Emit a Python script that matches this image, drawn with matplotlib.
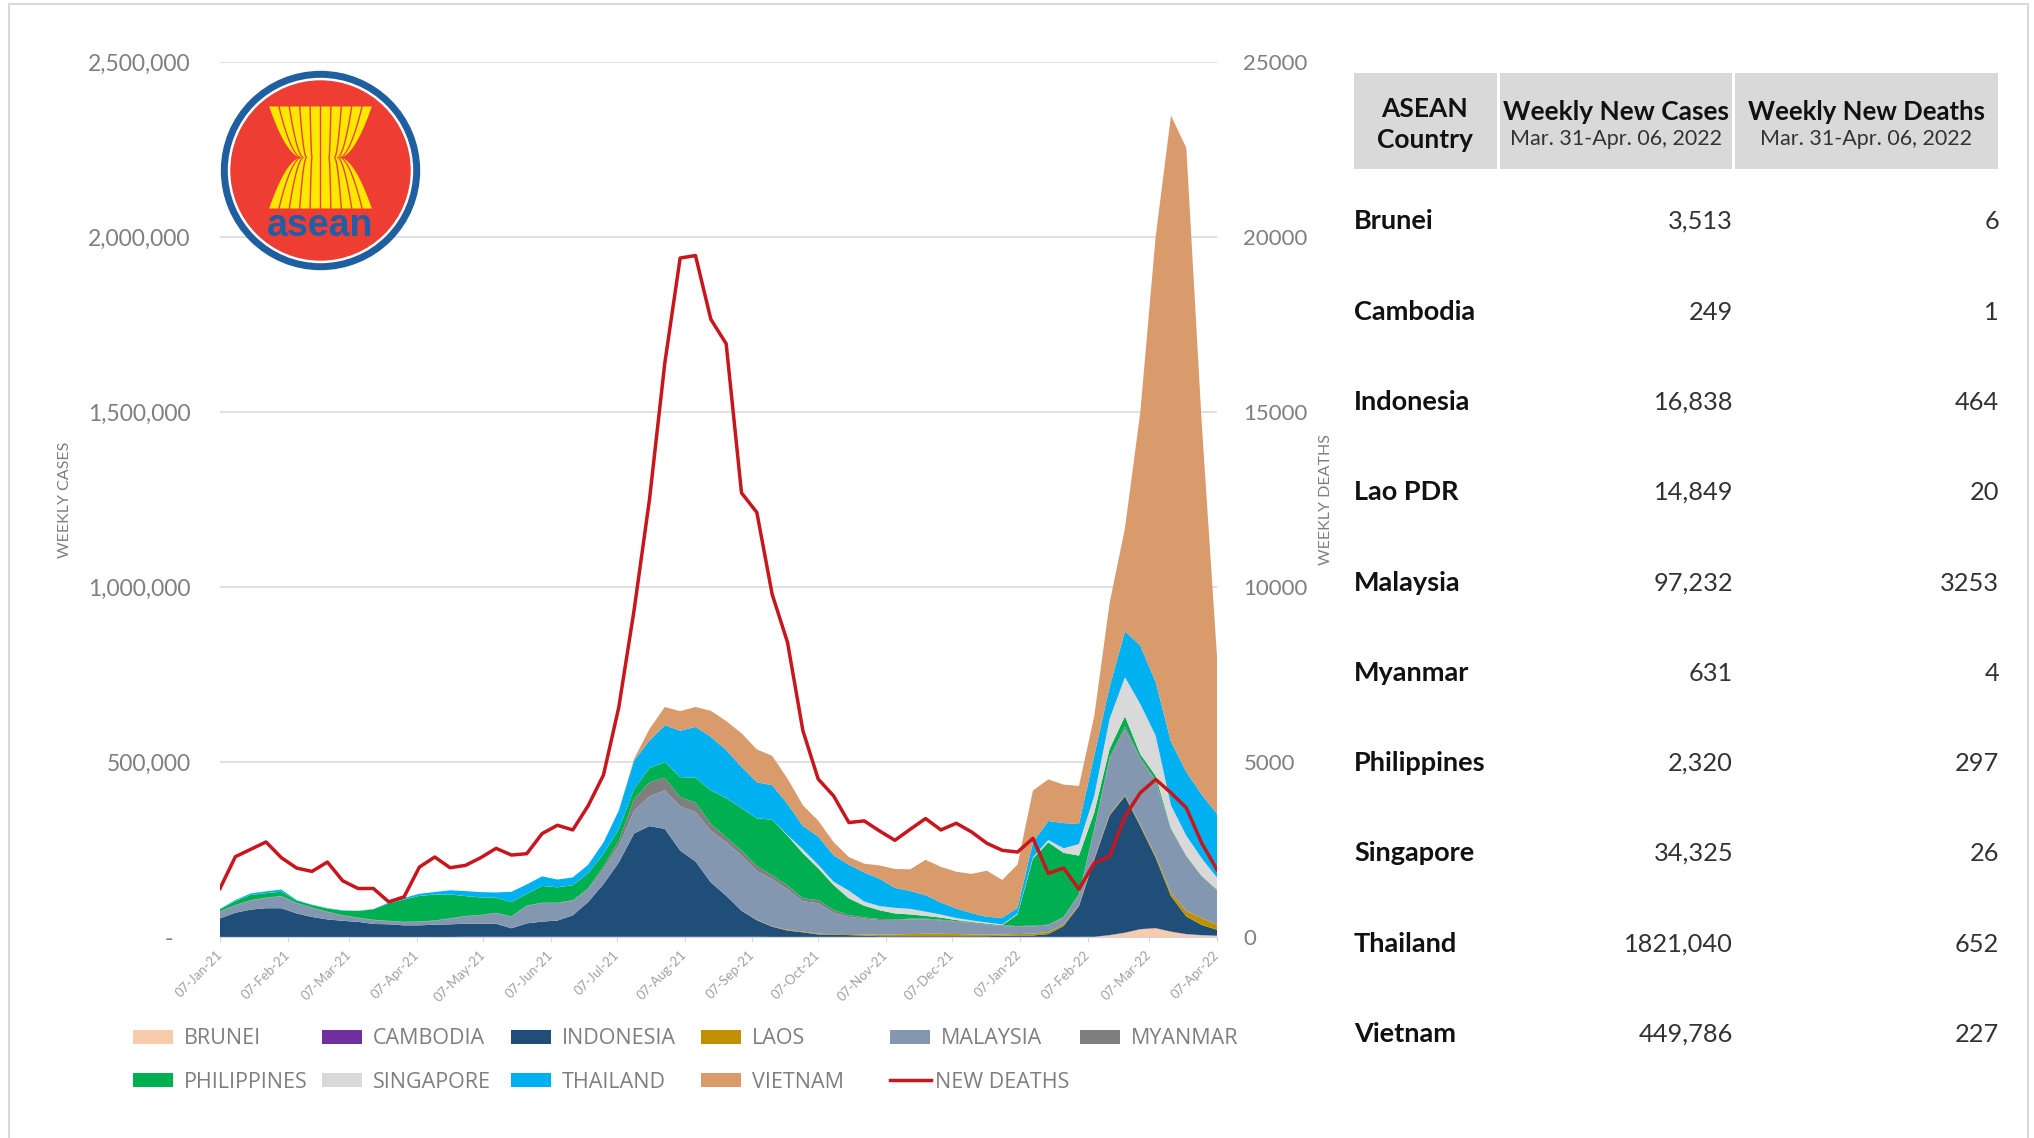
import numpy as np
import pandas as pd
import matplotlib
matplotlib.use('Agg')
import matplotlib.pyplot as plt
import matplotlib.dates as mdates
from matplotlib.patches import Circle, Polygon, Rectangle
from matplotlib.ticker import FuncFormatter

plt.rcParams['font.family'] = ['Lato', 'DejaVu Sans']

W, H = 2034, 1138

# weekly cases, thousands
brunei = [0.1, 0.1, 0.1, 0.1, 0.1, 0.1, 0.1, 0.1, 0.1, 0.1, 0.1, 0.1, 0.1, 0.1, 0.1, 0.1, 0.1, 0.1, 0.1, 0.1,
          0.1, 0.1, 0.1, 0.1, 0.1, 0.1, 0.1, 0.1, 0.1, 0.1, 0.1, 0.1, 0.1, 0.1, 0.1, 0.1, 0.1, 0.1, 0.1, 0.1,
          0.1, 0.1, 0.1, 0.1, 0.1, 0.1, 0.1, 0.1, 0.1, 0.1, 0.1, 0.1, 0.1, 0.1, 0.1, 0.1,
          0.3, 0.5, 5, 12, 22, 25, 15, 8, 5, 3.5]
cambodia = [0.1, 0.1, 0.1, 0.1, 0.1, 0.1, 0.1, 0.1, 0.1, 0.1, 0.1, 0.1, 0.1, 0.1, 0.1, 0.1,
            0.8, 0.8, 0.8, 0.8, 0.8, 0.8, 0.8, 0.8, 0.8, 0.8, 0.8, 0.8, 0.8, 0.8, 0.8, 0.8, 0.8, 0.8, 0.8, 0.8,
            0.3, 0.3, 0.3, 0.3, 0.3, 0.3, 0.3, 0.3, 0.3, 0.3, 0.3, 0.3, 0.3, 0.3, 0.3, 0.3, 0.3, 0.3, 0.3, 0.3, 0.3, 0.3,
            0.5, 0.5, 0.5, 0.5, 0.5, 0.5, 0.5, 0.25]
indonesia = [53, 69, 78, 82, 82, 67, 57, 50, 46, 43,
             37, 36, 33, 33, 35, 36, 37, 37, 37, 24,
             38, 43, 46, 61, 99, 150, 212, 295, 316, 308,
             246, 215, 155, 117, 74, 47, 29, 18, 13, 7,
             6, 5, 4, 2, 2, 2, 2, 2, 2, 2,
             2, 3, 4, 4, 8, 31, 88, 221, 342, 390,
             294, 201, 101, 50, 29, 16.8]
laos = [0.1, 0.1, 0.1, 0.1, 0.1, 0.1, 0.1, 0.1, 0.1, 0.1, 0.1, 0.1, 0.1, 0.1, 0.1, 0.1, 0.1, 0.1,
        0.1, 0.1, 0.1, 0.1, 0.1, 0.1, 0.1, 0.1, 0.1, 0.1, 0.1, 0.1, 0.1, 0.1, 0.1, 0.1, 0.1,
        1, 1, 2, 2, 2, 2, 3, 3, 4, 5,
        6, 7, 7, 6, 5, 4, 4, 4, 5, 6,
        5, 3, 3, 3, 3, 4, 6, 10, 16, 20, 14.8]
malaysia = [19, 21, 26, 29, 34, 29, 26, 21, 15, 11,
            11, 9, 9, 10, 11, 16, 21, 24, 30, 33,
            50, 53, 50, 41, 36, 43, 48, 65, 85, 110,
            127, 141, 148, 153, 158, 140, 135, 116, 87, 87,
            61, 49, 45, 42, 41, 42, 41, 38, 35, 33,
            29, 24, 21, 21, 19, 19, 29, 82, 158, 188,
            187, 213, 181, 156, 119, 97.2]
myanmar = [1, 1, 1, 1, 1, 1, 1, 1, 1, 1, 1, 1, 1, 1, 1, 1, 1, 1, 1, 1, 1, 1, 1,
           2, 3, 8, 14, 33, 40, 36,
           26, 27, 19, 14, 14, 14, 11, 11, 8, 9,
           8, 5, 4, 3, 2, 2, 2, 2, 2, 2,
           2, 2, 2, 2, 2, 2, 2, 3, 5, 8,
           5, 3, 1.5, 1, 1, 0.6]
philippines = [6, 11, 15, 13, 12, 7, 7, 9, 13, 19,
               30, 50, 64, 73, 74, 68, 57, 50, 43, 41,
               33, 48, 44, 43, 43, 35, 33, 29, 41, 45,
               57, 71, 96, 112, 121, 136, 159, 142, 129, 91,
               71, 48, 33, 25, 17, 12, 8, 6, 3, 1,
               1, 0.5, 33, 192, 235, 183, 110, 46, 24, 29,
               10, 12, 2, 1, 0.5, 2.3]
singapore = [0.2, 0.2, 0.2, 0.2, 0.2, 0.2, 0.2, 0.2, 0.2, 0.2, 0.2, 0.2, 0.2, 0.2, 0.2, 0.2, 0.2, 0.2, 0.2,
             0.2, 0.2, 0.2, 0.2, 0.2, 0.2, 0.2, 0.2, 0.2, 0.2, 0.2, 0.2, 0.2, 0.2, 0.2, 0.2, 0.2, 0.2,
             2, 11, 10,
             10, 22, 12, 12, 16, 16, 12, 9, 6, 4,
             3, 2, 2, 3, 7, 13, 33, 48, 86, 112,
             143, 115, 65, 57, 50, 34.3]
thailand = [1, 3, 4, 5, 6, 1, 1, 1, 1, 0.5,
            0.5, 2, 4, 6, 7, 12, 14, 15, 15, 29,
            27, 27, 22, 22, 24, 33, 53, 81, 78, 105,
            132, 145, 153, 137, 118, 103, 98, 89, 67, 81,
            75, 74, 83, 78, 57, 51, 47, 34, 27, 21,
            16, 19, 17, 43, 54, 72, 57, 115, 91, 131,
            167, 153, 182, 182, 182, 182.1]
vietnam = [0, 0, 0, 0, 0, 0, 0, 0, 0, 0, 0, 0, 0, 0, 0, 0, 0, 0, 0, 0, 0, 0, 0, 0, 0, 0,
           1, 5, 33, 52,
           56, 57, 74, 83, 96, 94, 84, 72, 59, 45,
           38, 22, 25, 38, 54, 62, 101, 102, 105, 112,
           132, 108, 124, 148, 119, 110, 109, 113, 240, 295,
           667, 1272, 1789, 1783, 1065, 449.8]
new_deaths = [1386, 2294, 2505, 2715, 2266, 1969, 1874, 2141, 1606, 1386,
              1386, 1004, 1147, 1998, 2285, 1979, 2046, 2266, 2533, 2342,
              2380, 2954, 3193, 3059, 3748, 4627, 6565, 9347, 12500, 16400,
              19400, 19470, 17650, 16950, 12690, 12130, 9790, 8420, 5899, 4512,
              4034, 3270, 3317, 3030, 2763, 3078, 3384, 3059, 3250, 3002,
              2677, 2476, 2428, 2820, 1816, 1969, 1367, 2113, 2304, 3451,
              4120, 4503, 4120, 3690, 2686, 1922]

series_names = ['BRUNEI', 'CAMBODIA', 'INDONESIA', 'LAOS', 'MALAYSIA', 'MYANMAR',
                'PHILIPPINES', 'SINGAPORE', 'THAILAND', 'VIETNAM']
series_colors = ['#f8cbad', '#7030a0', '#1f4e79', '#bf9000', '#8497b0', '#7f7f7f',
                 '#00b050', '#d9d9d9', '#00b0f0', '#d99a6c']
DEATH_COLOR = '#c8161d'
GREY = '#7f7f7f'

table_countries = ['Brunei', 'Cambodia', 'Indonesia', 'Lao PDR', 'Malaysia', 'Myanmar',
                   'Philippines', 'Singapore', 'Thailand', 'Vietnam']
table_cases = ['3,513', '249', '16,838', '14,849', '97,232', '631', '2,320', '34,325', '1821,040', '449,786']
table_deaths = ['6', '1', '464', '20', '3253', '4', '297', '26', '652', '227']

weeks = pd.date_range('2021-01-07', periods=66, freq='7D')
x = mdates.date2num(weeks)
stack = np.array([brunei, cambodia, indonesia, laos, malaysia, myanmar,
                  philippines, singapore, thailand, vietnam]) * 1000

fig = plt.figure(figsize=(W / 100, H / 100), dpi=100, facecolor='white')
ax = fig.add_axes([220 / W, 1 - 937 / H, 997 / W, 875 / H])
ax.stackplot(x, stack, colors=series_colors, linewidth=0, zorder=2)
ax.set_xlim(x[0], x[-1])
ax.set_ylim(0, 2500000)
ax.set_yticks([0, 500000, 1000000, 1500000, 2000000, 2500000])
ax.yaxis.set_major_formatter(FuncFormatter(lambda v, p: '-   ' if v == 0 else f'{v:,.0f}'))
ax.grid(axis='y', color='#d9d9d9', lw=1.1, zorder=0)
ax.set_axisbelow(True)
for s in ['top', 'left', 'right']:
    ax.spines[s].set_visible(False)
ax.spines['bottom'].set_color('#d0d7e0')
ax.tick_params(axis='y', length=0, pad=21, labelsize=16.5, labelcolor=GREY)
ax.xaxis.set_major_locator(mdates.DayLocator(bymonthday=7))
ax.xaxis.set_major_formatter(mdates.DateFormatter('%d-%b-%y'))
ax.tick_params(axis='x', length=3.5, width=0.8, color='#d9d9d9', pad=8)
for t in ax.get_xticklabels():
    t.set(rotation=45, ha='right', va='center', rotation_mode='anchor', fontsize=9.5, color='#a0a0a0')

ax2 = ax.twinx()
ax2.plot(x, new_deaths, color=DEATH_COLOR, lw=2.5, zorder=5)
ax2.set_ylim(0, 25000)
ax2.set_yticks([0, 5000, 10000, 15000, 20000, 25000])
ax2.tick_params(axis='y', length=0, pad=19, labelsize=16, labelcolor=GREY)
for s in ['top', 'left', 'right', 'bottom']:
    ax2.spines[s].set_visible(False)

# overlay in pixel coordinates for logo, legend, table
ov = fig.add_axes([0, 0, 1, 1], facecolor='none')
ov.set_xlim(0, W)
ov.set_ylim(H, 0)
ov.axis('off')

ov.plot([9, 9, 2028, 2028], [H, 4, 4, H], color='#d9d9d9', lw=1.5)

ov.text(65, 500, 'WEEKLY CASES', rotation=90, ha='center', va='center', fontsize=11.5, color=GREY)
ov.text(1326, 500, 'WEEKLY DEATHS', rotation=90, ha='center', va='center', fontsize=11.5, color=GREY)

# logo
cx, cy = 320.5, 170.5
ov.add_patch(Circle((cx, cy), 99, color='#1f5fa0', zorder=6))
ov.add_patch(Circle((cx, cy), 92, color='white', zorder=6))
ov.add_patch(Circle((cx, cy), 89.5, color='#ee3d33', zorder=6))
t = np.linspace(-1, 1, 81)
bend = np.abs(t) ** 0.55
stalk_y = 157.5 + 51 * t
top_edges = np.array([-52, -41.6, -31.2, -20.8, -10.4, 0, 10.4, 20.8, 31.2, 41.6, 52])
waist_edges = np.array([-20, -19, -17, -14, -8.5, 0, 8.5, 14, 17, 19, 20])
for k in range(10):
    left = waist_edges[k] + (top_edges[k] - waist_edges[k]) * bend + 0.7
    right = waist_edges[k + 1] + (top_edges[k + 1] - waist_edges[k + 1]) * bend - 0.7
    pts = np.r_[np.c_[cx + left, stalk_y], np.c_[cx + right, stalk_y][::-1]]
    ov.add_patch(Polygon(pts, closed=True, color='#ffe800', lw=0, zorder=7))
ov.text(cx, 226, 'asean', ha='center', va='center', fontsize=27, fontweight='bold',
        family='Liberation Sans', color='#1f5fa8', zorder=7)

# legend
legend_x = [133, 322, 511, 701, 890, 1080]
legend_y = [1037, 1080]
for i, name in enumerate(series_names):
    lx = legend_x[i % 6]
    ly = legend_y[i // 6]
    ov.add_patch(Rectangle((lx, ly - 7), 40, 14, color=series_colors[i], lw=0))
    ov.text(lx + 51, ly + 2, name, ha='left', va='center', fontsize=15.5, family='Open Sans', color=GREY)
ov.plot([890, 931], [1080, 1080], color=DEATH_COLOR, lw=2.5)
ov.text(935, 1082, 'NEW DEATHS', ha='left', va='center', fontsize=15.5, family='Open Sans', color=GREY)

# table
for x0, x1 in [(1354, 1497), (1500, 1732), (1735, 1998)]:
    ov.add_patch(Rectangle((x0, 73), x1 - x0, 96, color='#d9d9d9', lw=0))
ov.text(1425, 109, 'ASEAN', ha='center', va='center', fontsize=19, fontweight='bold', color='#111111')
ov.text(1425, 140, 'Country', ha='center', va='center', fontsize=19, fontweight='bold', color='#111111')
ov.text(1616, 112, 'Weekly New Cases', ha='center', va='center', fontsize=18.9, fontweight='bold', color='#111111')
ov.text(1616, 139, 'Mar. 31-Apr. 06, 2022', ha='center', va='center', fontsize=15.5, color='#333333')
ov.text(1866, 112, 'Weekly New Deaths', ha='center', va='center', fontsize=18.5, fontweight='bold', color='#111111')
ov.text(1866, 139, 'Mar. 31-Apr. 06, 2022', ha='center', va='center', fontsize=15.5, color='#333333')

row_y = [221, 312, 402, 492, 583, 673, 763, 853, 944, 1034]
for ry, name, cases, deaths in zip(row_y, table_countries, table_cases, table_deaths):
    ov.text(1354, ry, name, ha='left', va='center', fontsize=19.5, fontweight='bold', color='#111111')
    ov.text(1733, ry, cases, ha='right', va='center', fontsize=18.3, color='#333333')
    ov.text(1999, ry, deaths, ha='right', va='center', fontsize=18.3, color='#333333')

fig.savefig('out.png', dpi=100)
